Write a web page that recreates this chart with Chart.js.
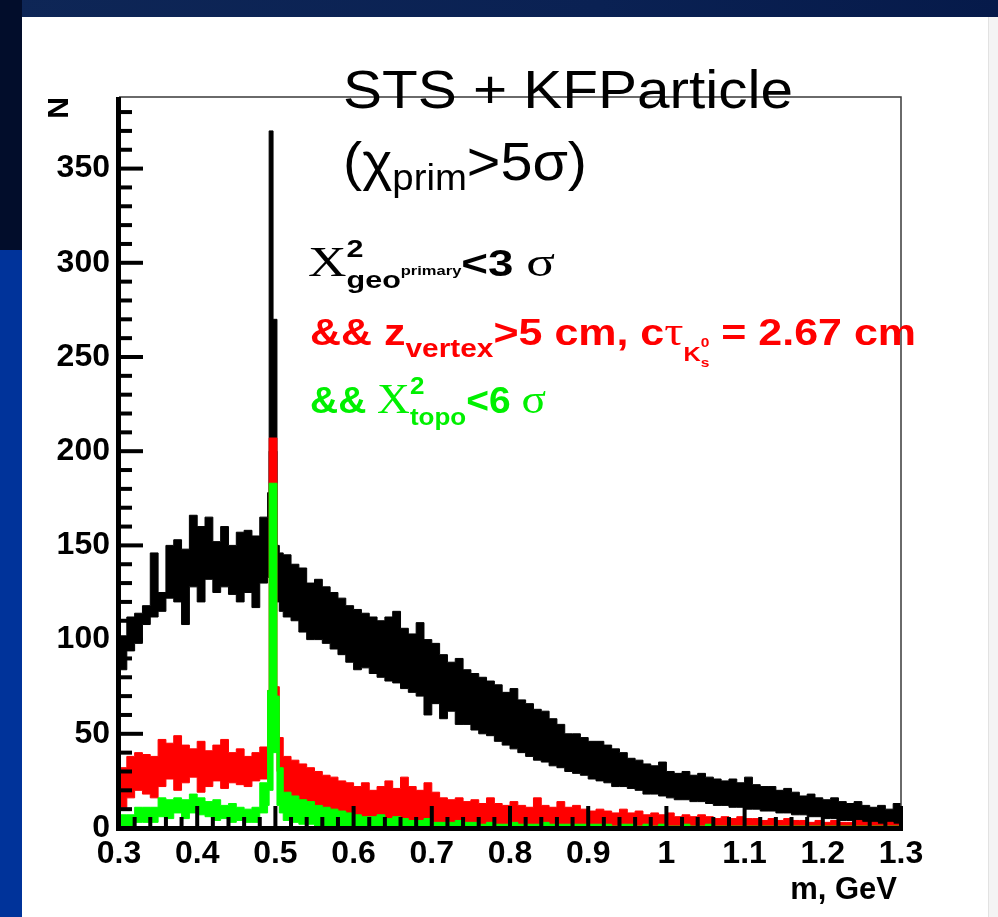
<!DOCTYPE html>
<html lang="en">
<head>
<meta charset="UTF-8">
<title>STS + KFParticle K0s mass</title>
<style>
  html, body { margin: 0; padding: 0; }
  body { width: 998px; height: 917px; position: relative; overflow: hidden; background: #fff; }
  .topband { position: absolute; left: 0; top: 0; width: 998px; height: 17px; background: linear-gradient(90deg, #0e2656, #0a2153 60%, #061a4a); }
  .leftdark { position: absolute; left: 0; top: 0; width: 22px; height: 250px; background: #020d2b; }
  .leftblue { position: absolute; left: 0; top: 250px; width: 22px; height: 667px; background: #00339a; }
  .rightedge { position: absolute; left: 988px; top: 17px; width: 10px; height: 900px; background: #f4f4f4; border-left: 1px solid #e2e2e2; }
  canvas { position: absolute; left: 0; top: 0; }
</style>
</head>
<body>
<div class="topband"></div>
<div class="leftdark"></div>
<div class="leftblue"></div>
<div class="rightedge"></div>
<canvas id="massChart" width="998" height="917"></canvas>

<script src="https://cdn.jsdelivr.net/npm/chart.js"></script>
<script>
// bin lower edges (GeV); finer bins around the K0s peak
const binEdges = [];
for (let i = 0; i < 19; i++) binEdges.push(+(0.30 + i * 0.01).toFixed(3));
binEdges.push(0.490, 0.492, 0.497, 0.502, 0.505);
for (let i = 0; i < 79; i++) binEdges.push(+(0.51 + i * 0.01).toFixed(3));
const massMax = 1.30;

// chi2_geo primary < 3 sigma (black), band top / bottom
const blackHigh = [
  102, 112, 114, 118, 146, 125, 150, 153, 148, 166, 160, 165, 152, 160, 150, 157, 158, 155, 165,
  178, 370, 270, 150, 146,
  145, 140, 138, 130, 132, 128, 125, 122, 118, 116,
  114, 112, 110, 112, 115, 106, 103, 109, 100, 98,
  92, 88, 90, 84, 82, 80, 78, 76, 72, 74,
  68, 66, 63, 62, 58, 55, 50, 50, 48, 46,
  46, 44, 42, 40, 37, 36, 34, 33, 35, 30,
  29, 30, 28, 29, 27, 26, 25, 26, 24, 27,
  23, 22, 22, 20, 21, 19, 17, 18, 16, 15,
  16, 14, 13, 14, 12, 11, 12, 10, 13
];
const blackLow = [
  84, 94, 98, 108, 112, 115, 122, 120, 108, 128, 120, 132, 125, 128, 124, 120, 125, 117, 130,
  133, 200, 200, 120, 115,
  112, 110, 104, 100, 100, 98, 95, 92, 88, 84,
  85, 82, 80, 78, 77, 74, 72, 70, 60, 66,
  58, 62, 55, 55, 52, 50, 49, 46, 44, 42,
  40, 38, 36, 35, 33, 32, 30, 29, 28, 26,
  25, 24, 22, 22, 21, 20, 18, 18, 17, 16,
  15, 15, 14, 14, 13, 12, 12, 11, 11, 10,
  10, 9, 9, 8, 8, 7, 7, 6, 6, 5,
  5, 4, 4, 3, 3, 3, 2, 2, 2
];

// && z_vertex > 5 cm (red)
const redHigh = [
  32, 38, 40, 39, 38, 47, 45, 49, 44, 42, 46, 41, 44, 47, 40, 42, 38, 40, 43,
  73, 207, 207, 75, 48,
  38, 36, 34, 32, 30, 28, 27, 25, 24, 22,
  24, 20, 22, 25, 21, 27, 22, 20, 24, 19,
  16, 15, 16, 14, 15, 13, 16, 13, 12, 14,
  12, 11, 16, 12, 11, 14, 11, 12, 10, 9,
  10, 9, 8, 10, 8, 9, 7, 8, 7, 8,
  6, 7, 6, 7, 6, 5, 6, 5, 6, 5,
  5, 4, 5, 4, 5, 4, 4, 3, 4, 3,
  4, 3, 3, 4, 3, 3, 2, 3, 2
];
const redLow = [
  11, 16, 20, 18, 16, 22, 26, 20, 24, 27, 19, 22, 25, 21, 24, 23, 22, 25, 26,
  28, 50, 60, 30, 22,
  18, 15, 12, 10, 9, 8, 7, 6, 5, 5,
  4, 4, 4, 3, 4, 3, 3, 3, 2, 3,
  2, 2, 2, 1, 2, 1, 1, 1, 1, 1,
  1, 1, 1, 1, 1, 0, 1, 0, 0, 1,
  0, 0, 0, 0, 0, 0, 0, 0, 0, 0,
  0, 0, 0, 0, 0, 0, 0, 0, 0, 0,
  0, 0, 0, 0, 0, 0, 0, 0, 0, 0,
  0, 0, 0, 0, 0, 0, 0, 0, 0
];

// && chi2_topo < 6 sigma (green)
const greenHigh = [
  7, 7, 11, 11, 11, 16, 15, 16, 15, 18, 16, 14, 15, 12, 13, 11, 10, 11, 24,
  73, 183, 183, 70, 32,
  19, 17, 15, 14, 12, 11, 10, 9, 8, 7,
  6, 6, 7, 5, 6, 5, 4, 4, 5, 3,
  3, 3, 4, 3, 3, 2, 3, 2, 2, 3,
  2, 2, 2, 3, 2, 2, 2, 2, 2, 2,
  2, 2, 1, 2, 2, 1, 2, 1, 2, 1,
  1, 2, 1, 1, 2, 1, 1, 1, 1, 1,
  1, 1, 1, 1, 1, 1, 1, 1, 1, 1,
  1, 1, 1, 1, 1, 1, 1, 1, 1
];
const greenLow = [
  0, 0, 3, 3, 3, 6, 5, 8, 5, 8, 7, 6, 4, 5, 3, 4, 3, 3, 8,
  12, 20, 40, 12, 8,
  4, 3, 2, 2, 1, 1, 1, 0, 0, 0,
  0, 0, 0, 0, 0, 0, 0, 0, 0, 0,
  0, 0, 0, 0, 0, 0, 0, 0, 0, 0,
  0, 0, 0, 0, 0, 0, 0, 0, 0, 0,
  0, 0, 0, 0, 0, 0, 0, 0, 0, 0,
  0, 0, 0, 0, 0, 0, 0, 0, 0, 0,
  0, 0, 0, 0, 0, 0, 0, 0, 0, 0,
  0, 0, 0, 0, 0, 0, 0, 0, 0
];

const yTicks = [0, 50, 100, 150, 200, 250, 300, 350];
const xTicks = [0.3, 0.4, 0.5, 0.6, 0.7, 0.8, 0.9, 1, 1.1, 1.2, 1.3];

const SANS = '"Liberation Sans", Arial, Helvetica, sans-serif';
const SERIF = '"Liberation Serif", "Times New Roman", serif';

function histPoints(vals) {
  const p = binEdges.map((x, i) => ({ x: x, y: vals[i] }));
  p.push({ x: massMax, y: vals[vals.length - 1] });
  return p;
}

function band(vals, color, fillNext) {
  return {
    data: histPoints(vals),
    stepped: true,
    borderColor: color,
    backgroundColor: color,
    borderWidth: 1,
    pointRadius: 0,
    fill: fillNext ? '+1' : false
  };
}

// draws a line of mixed-size text (sub/superscripts) stretched to a given width
function drawRuns(ctx, runs, x0, base, width, color) {
  let w = 0;
  runs.forEach(r => {
    ctx.font = r.font;
    r.w = ctx.measureText(r.text).width;
    if (!r.stack) w += r.w;
  });
  ctx.save();
  ctx.translate(x0, base);
  ctx.scale(width / w, 1);
  ctx.fillStyle = color;
  ctx.textBaseline = 'alphabetic';
  ctx.textAlign = 'left';
  let cx = 0;
  runs.forEach(r => {
    ctx.font = r.font;
    ctx.fillText(r.text, cx, r.dy || 0);
    if (!r.stack) cx += r.w;
  });
  ctx.restore();
}

const rootFrame = {
  id: 'rootFrame',
  afterDraw(chart) {
    const { ctx, chartArea: a, scales } = chart;
    const x = scales.x, y = scales.y;
    ctx.save();
    // thin top / right frame
    ctx.strokeStyle = '#3a3a3a';
    ctx.lineWidth = 1.5;
    ctx.beginPath();
    ctx.moveTo(a.left, a.top);
    ctx.lineTo(a.right, a.top);
    ctx.lineTo(a.right, a.bottom);
    ctx.stroke();
    // thick axes
    ctx.fillStyle = '#000';
    ctx.fillRect(a.left - 3, a.top, 5, a.bottom - a.top + 3);
    ctx.fillRect(a.left - 3, a.bottom - 2, a.right - a.left + 5, 5);
    // inward ticks, major + minor
    for (let v = 0; v <= 380; v += 10) {
      const py = y.getPixelForValue(v);
      const len = v % 50 === 0 ? 24 : 13;
      ctx.fillRect(a.left, py - 2, len, 4);
    }
    for (let i = 0; i <= 50; i++) {
      const px = x.getPixelForValue(0.3 + i * 0.02);
      const len = i % 5 === 0 ? 22 : 11;
      ctx.fillRect(px - 2, a.bottom - len, 4, len);
    }

    // axis titles
    ctx.fillStyle = '#000';
    ctx.font = 'bold 30px ' + SANS;
    ctx.save();
    ctx.translate(60, 97);
    ctx.rotate(-Math.PI / 2);
    ctx.textAlign = 'right';
    ctx.textBaseline = 'middle';
    ctx.fillText('N', 0, 0);
    ctx.restore();
    ctx.font = 'bold 31px ' + SANS;
    ctx.textAlign = 'right';
    ctx.textBaseline = 'alphabetic';
    ctx.fillText('m, GeV', 897, 899);

    // slide caption
    drawRuns(ctx, [{ text: 'STS + KFParticle', font: '54px ' + SANS }], 343, 108, 450, '#000');
    drawRuns(ctx, [
      { text: '(\u03c7', font: '54px ' + SANS },
      { text: 'prim', font: '36px ' + SANS, dy: 10 },
      { text: '>5\u03c3)', font: '54px ' + SANS }
    ], 343, 180, 244, '#000');

    // cut legend
    drawRuns(ctx, [
      { text: 'X', font: '42px ' + SERIF },
      { text: '2', font: 'bold 24px ' + SANS, dy: -19, stack: true },
      { text: 'geo', font: 'bold 24px ' + SANS, dy: 12 },
      { text: 'primary', font: 'bold 13px ' + SANS, dy: -1 },
      { text: '<3 ', font: 'bold 36px ' + SANS },
      { text: '\u03c3', font: '42px ' + SERIF }
    ], 308, 276, 247, '#000');
    drawRuns(ctx, [
      { text: '&& z', font: 'bold 36px ' + SANS },
      { text: 'vertex', font: 'bold 25px ' + SANS, dy: 12 },
      { text: '>5 cm, c', font: 'bold 36px ' + SANS },
      { text: '\u03c4', font: '40px ' + SERIF },
      { text: 'K', font: 'bold 20px ' + SANS, dy: 16 },
      { text: '0', font: 'bold 13px ' + SANS, dy: 2, stack: true },
      { text: 's', font: 'bold 13px ' + SANS, dy: 22 },
      { text: ' = 2.67 cm', font: 'bold 36px ' + SANS }
    ], 310, 345, 606, '#ff0000');
    drawRuns(ctx, [
      { text: '&& ', font: 'bold 36px ' + SANS },
      { text: 'X', font: '42px ' + SERIF },
      { text: '2', font: 'bold 24px ' + SANS, dy: -19, stack: true },
      { text: 'topo', font: 'bold 24px ' + SANS, dy: 12 },
      { text: '<6 ', font: 'bold 36px ' + SANS },
      { text: '\u03c3', font: '42px ' + SERIF }
    ], 310, 413, 236, '#00f000');
    ctx.restore();
  }
};

const tickFont = { family: SANS, size: 32, weight: 'bold' };

new Chart(document.getElementById('massChart'), {
  type: 'line',
  data: {
    datasets: [
      band(greenHigh, '#00ff00', true),
      band(greenLow, '#00ff00', false),
      band(redHigh, '#ff0000', true),
      band(redLow, '#ff0000', false),
      band(blackHigh, '#000000', true),
      band(blackLow, '#000000', false)
    ]
  },
  options: {
    responsive: false,
    animation: false,
    devicePixelRatio: 1,
    layout: { padding: { left: 20, top: 97, right: 97, bottom: 29 } },
    plugins: { legend: { display: false }, tooltip: { enabled: false } },
    scales: {
      x: {
        type: 'linear',
        min: 0.3,
        max: 1.3,
        afterFit: s => { s.height = 60; },
        afterBuildTicks: s => { s.ticks = xTicks.map(v => ({ value: v })); },
        grid: { display: false, drawTicks: false },
        border: { display: false },
        ticks: {
          color: '#000',
          font: tickFont,
          padding: 7,
          maxRotation: 0,
          autoSkip: false,
          callback: v => String(+v.toFixed(1))
        }
      },
      y: {
        min: 0,
        max: 388,
        afterFit: s => { s.width = 99; },
        afterBuildTicks: s => { s.ticks = yTicks.map(v => ({ value: v })); },
        grid: { display: false, drawTicks: false },
        border: { display: false },
        ticks: { color: '#000', font: tickFont, padding: 9 }
      }
    }
  },
  plugins: [rootFrame]
});
</script>
</body>
</html>
